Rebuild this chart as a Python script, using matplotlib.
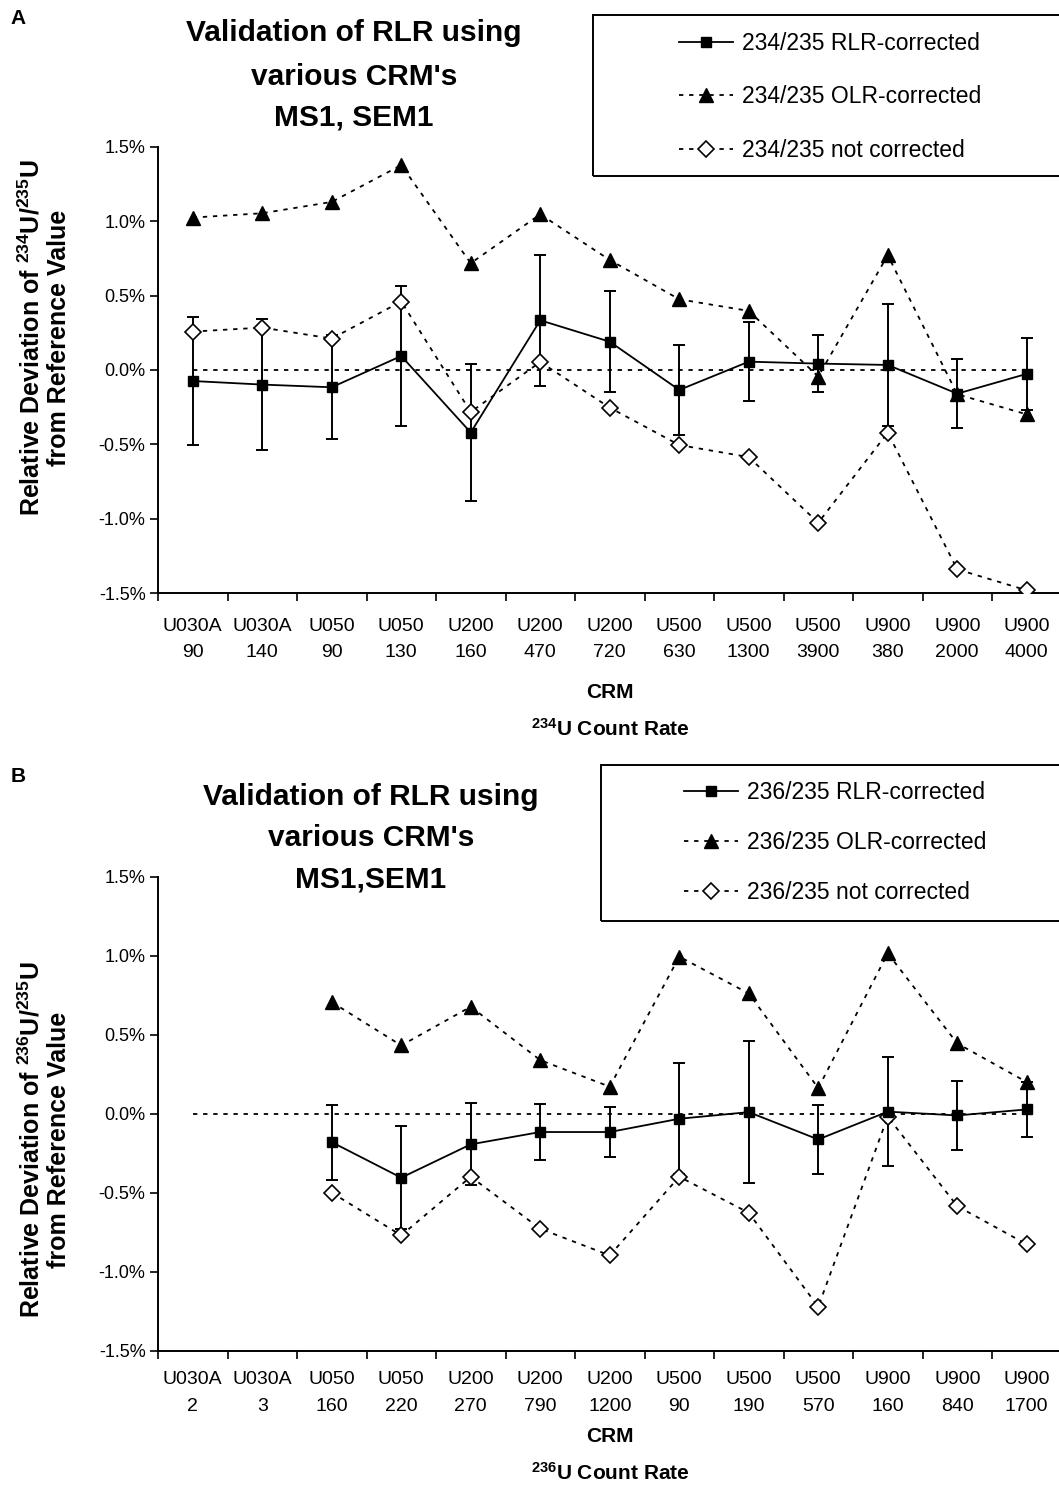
import matplotlib
matplotlib.use('Agg')
import matplotlib.pyplot as plt
import numpy as np
from matplotlib.patches import Rectangle

plt.rcParams['font.family'] = ['Liberation Sans', 'DejaVu Sans']
plt.rcParams['mathtext.fontset'] = 'custom'
plt.rcParams['mathtext.rm'] = 'Liberation Sans:bold'
plt.rcParams['mathtext.bf'] = 'Liberation Sans:bold'
plt.rcParams['mathtext.default'] = 'bf'

nan = np.nan

# ---------------- Panel A data (relative deviation, %) ----------------
crm_A = ['U030A', 'U030A', 'U050', 'U050', 'U200', 'U200', 'U200',
         'U500', 'U500', 'U500', 'U900', 'U900', 'U900']
rate_A = ['90', '140', '90', '130', '160', '470', '720',
          '630', '1300', '3900', '380', '2000', '4000']
rlr_A = [-0.074, -0.098, -0.116, 0.094, -0.420, 0.334, 0.190,
         -0.134, 0.056, 0.043, 0.034, -0.159, -0.026]
rlr_err_A = [0.43, 0.44, 0.35, 0.47, 0.46, 0.44, 0.34,
             0.30, 0.265, 0.19, 0.41, 0.23, 0.24]
olr_A = [1.024, 1.053, 1.129, 1.376, 0.717, 1.046, 0.739,
         0.475, 0.397, -0.044, 0.771, -0.163, -0.298]
nc_A = [0.258, 0.285, 0.211, 0.460, -0.282, 0.054, -0.253,
        -0.504, -0.585, -1.026, -0.421, -1.339, -1.480]
ref_A = [0.0, 0.0, 0.0, 0.0, 0.0, 0.0, 0.0, 0.0, 0.0, 0.0, 0.0, 0.0, 0.0]
labels_A = ['234/235 RLR-corrected', '234/235 OLR-corrected', '234/235 not corrected']

# ---------------- Panel B data (relative deviation, %) ----------------
crm_B = ['U030A', 'U030A', 'U050', 'U050', 'U200', 'U200', 'U200',
         'U500', 'U500', 'U500', 'U900', 'U900', 'U900']
rate_B = ['2', '3', '160', '220', '270', '790', '1200',
          '90', '190', '570', '160', '840', '1700']
rlr_B = [nan, nan, -0.180, -0.405, -0.194, -0.116, -0.116,
         -0.032, 0.010, -0.163, 0.013, -0.011, 0.027]
rlr_err_B = [nan, nan, 0.238, 0.325, 0.26, 0.18, 0.16,
             0.35, 0.45, 0.216, 0.343, 0.218, 0.173]
olr_B = [nan, nan, 0.706, 0.432, 0.677, 0.339, 0.171,
         0.994, 0.761, 0.162, 1.015, 0.445, 0.200]
nc_B = [nan, nan, -0.500, -0.770, -0.399, -0.728, -0.897,
        -0.399, -0.627, -1.222, -0.019, -0.585, -0.827]
ref_B = [0.0, 0.0, 0.0, 0.0, 0.0, 0.0, 0.0, 0.0, 0.0, 0.0, 0.0, 0.0, 0.0]
labels_B = ['236/235 RLR-corrected', '236/235 OLR-corrected', '236/235 not corrected']

yticks = [-1.5, -1.0, -0.5, 0.0, 0.5, 1.0, 1.5]

W, H = 1059, 1486
fig = plt.figure(figsize=(W / 100, H / 100), dpi=100)


def fx(px):
    return px / W


def fy(py):
    return 1 - py / H


DOT = (0, (2.4, 3.2))


def draw_panel(ax, crm, rate, rlr, err, olr, nc, ref, xpad):
    x = np.arange(len(crm))
    ax.plot(x, ref, ls=DOT, color='black', lw=1.3, zorder=1)
    ax.errorbar(x, rlr, yerr=err, fmt='none', ecolor='black',
                elinewidth=1.4, capsize=4, capthick=1.4, zorder=2)
    h2, = ax.plot(x, olr, ls=DOT, color='black', lw=1.3, marker='^',
                  ms=10, mfc='black', mec='black', zorder=3)
    h3, = ax.plot(x, nc, ls=DOT, color='black', lw=1.3, marker='D',
                  ms=8.5, mfc='white', mec='black', mew=1.2, zorder=3)
    h1, = ax.plot(x, rlr, ls='-', color='black', lw=1.3, marker='s',
                  ms=7.5, mfc='black', mec='black', zorder=4)
    ax.set_xlim(-0.5, len(crm) - 0.5)
    ax.set_ylim(-1.5, 1.5)
    ax.set_yticks(yticks)
    ax.set_yticklabels([f'{v:.1f}%' for v in yticks])
    ax.set_xticks(x)
    ax.set_xticklabels([f'{c}\n{r}' for c, r in zip(crm, rate)],
                       fontsize=14, linespacing=1.75)
    ax.set_xticks(np.arange(-0.5, len(crm), 1.0), minor=True)
    ax.tick_params(axis='x', which='major', length=0, pad=xpad)
    ax.tick_params(axis='x', which='minor', length=6, width=1.2, direction='out')
    ax.tick_params(axis='y', length=6, width=1.2, direction='out',
                   labelsize=13, pad=3)
    for s in ('top', 'right'):
        ax.spines[s].set_visible(False)
    for s in ('left', 'bottom'):
        ax.spines[s].set_linewidth(1.4)
    ax.patch.set_alpha(0)
    return [h1, h2, h3]


axA = fig.add_axes([fx(158), fy(593.3), (1061.5 - 158) / W, (593.3 - 146.7) / H])
hA = draw_panel(axA, crm_A, rate_A, rlr_A, rlr_err_A, olr_A, nc_A, ref_A, 17.5)

axB = fig.add_axes([fx(158), fy(1350.7), (1061.5 - 158) / W, (1350.7 - 876.7) / H])
hB = draw_panel(axB, crm_B, rate_B, rlr_B, rlr_err_B, olr_B, nc_B, ref_B, 14.5)

# legend boxes
for (x0, y0, y1) in [(592.7, 15, 176), (600.7, 765, 921)]:
    fig.add_artist(Rectangle((fx(x0), fy(y1)), 1.05 - fx(x0), (y1 - y0) / H,
                             transform=fig.transFigure, fill=False,
                             lw=1.4, ec='black', clip_on=False))

for handles, labels, xh, ytop, sp in [(hA, labels_A, 679, 32, 1.33),
                                     (hB, labels_B, 684, 781, 1.17)]:
    fig.legend(handles, labels, loc='upper left', bbox_to_anchor=(fx(xh), fy(ytop)),
               frameon=False, borderpad=0, borderaxespad=0, handlelength=2.35,
               handletextpad=0.4, labelspacing=sp, fontsize=16.5, numpoints=1)

# titles
for lines, cx, ys in [(['Validation of RLR using', "various CRM's", 'MS1, SEM1'], 354, [33, 77, 118]),
                      (['Validation of RLR using', "various CRM's", 'MS1,SEM1'], 371, [797, 838, 879])]:
    for t, yy in zip(lines, ys):
        fig.text(fx(cx), fy(yy), t, ha='center', va='center', fontsize=21.5,
                 fontweight='bold')

# panel letters
fig.text(fx(18), fy(19), 'A', ha='center', va='center', fontsize=15, fontweight='bold')
fig.text(fx(18), fy(776), 'B', ha='center', va='center', fontsize=15, fontweight='bold')

# y labels
for iso, cy in [('234', 338), ('236', 1140)]:
    fig.text(fx(31), fy(cy), r'Relative Deviation of $^{' + iso + r'}$U/$^{235}$U',
             rotation=90, ha='center', va='center', fontsize=18, fontweight='bold')
    fig.text(fx(59), fy(cy), 'from Reference Value',
             rotation=90, ha='center', va='center', fontsize=18, fontweight='bold')

# x labels
for iso, y1, y2 in [('234', 693, 729), ('236', 1436, 1473)]:
    fig.text(fx(610), fy(y1), 'CRM', ha='center', va='center', fontsize=15,
             fontweight='bold')
    fig.text(fx(610), fy(y2), r'$^{' + iso + r'}$U Count Rate', ha='center', va='center',
             fontsize=15, fontweight='bold')

fig.savefig('out.png', dpi=100)
